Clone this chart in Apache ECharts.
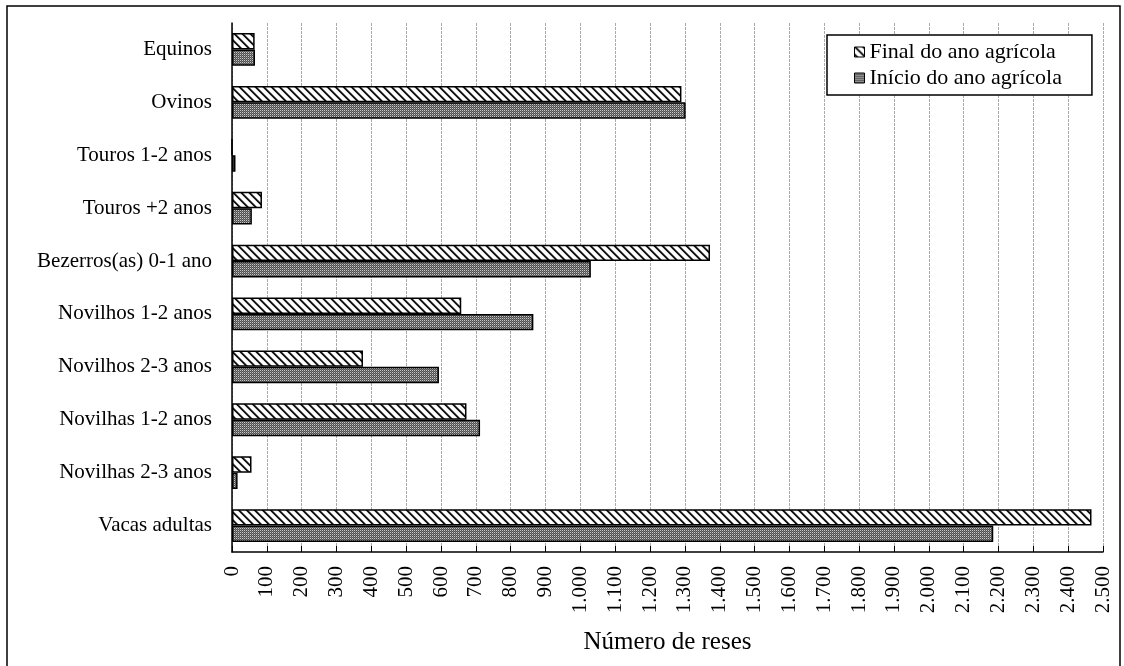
<!DOCTYPE html>
<html>
<head>
<meta charset="utf-8">
<script src="https://cdn.jsdelivr.net/npm/echarts@6/dist/echarts.min.js"></script>
<style>html,body{margin:0;padding:0;background:#fff}#c{width:1124px;height:666px}</style>
</head>
<body>
<div id="c"></div>
<script>
const categories = ["Equinos","Ovinos","Touros 1-2 anos","Touros +2 anos","Bezerros(as) 0-1 ano","Novilhos 1-2 anos","Novilhos 2-3 anos","Novilhas 1-2 anos","Novilhas 2-3 anos","Vacas adultas"];
const finalAno = [65, 1290, 0, 86, 1372, 658, 376, 673, 56, 2467];
const inicioAno = [66, 1302, 10, 57, 1030, 865, 594, 712, 16, 2185];
const seriesNames = ["Final do ano agrícola", "Início do ano agrícola"];
const xAxisName = "Número de reses";

function makeHatch() {
  const c = document.createElement('canvas'); c.width = 8; c.height = 8;
  const g = c.getContext('2d'); const im = g.createImageData(8, 8);
  for (let y = 0; y < 8; y++) for (let x = 0; x < 8; x++) {
    const d = ((x - y) % 8 + 8) % 8;
    const v = d < 2 ? 20 : (d === 2 ? 140 : (d === 7 ? 200 : 255));
    const i = (y * 8 + x) * 4; im.data[i] = im.data[i+1] = im.data[i+2] = v; im.data[i+3] = 255;
  }
  g.putImageData(im, 0, 0); return c;
}
function makeDots() {
  const c = document.createElement('canvas'); c.width = 4; c.height = 4;
  const g = c.getContext('2d'); const im = g.createImageData(4, 4);
  for (let y = 0; y < 4; y++) for (let x = 0; x < 4; x++) {
    let v;
    if (x % 2 === 0 && y % 2 === 0) v = 200;
    else if ((x + y) % 2 === 1) v = 80;
    else v = 120;
    const i = (y * 4 + x) * 4; im.data[i] = im.data[i+1] = im.data[i+2] = v; im.data[i+3] = 255;
  }
  g.putImageData(im, 0, 0); return c;
}
const hatch = { image: makeHatch(), repeat: 'repeat' };
const dots = { image: makeDots(), repeat: 'repeat' };
const font = 'Liberation Serif';

const chart = echarts.init(document.getElementById('c'), null, { renderer: 'canvas' });
chart.setOption({
  animation: false,
  backgroundColor: '#fff',
  textStyle: { fontFamily: font, color: '#000' },
  graphic: [{
    type: 'rect', z: 100, silent: true,
    shape: { x: 7, y: 6, width: 1113, height: 680 },
    style: { fill: null, stroke: '#000', lineWidth: 1.5 }
  }],
  grid: { left: 232, right: 21, top: 23, bottom: 114, containLabel: false },
  legend: {
    orient: 'vertical', left: 827, top: 35,
    padding: [6, 30, 6, 27], itemGap: 4,
    itemWidth: 10, itemHeight: 10, icon: 'rect',
    backgroundColor: '#fff', borderColor: '#000', borderWidth: 1.5,
    textStyle: { fontFamily: font, fontSize: 22, color: '#000', lineHeight: 22 },
    itemStyle: { borderColor: '#000', borderWidth: 1 },
    data: seriesNames
  },
  xAxis: {
    type: 'value', min: 0, max: 2500, interval: 100,
    name: xAxisName, nameLocation: 'middle', nameGap: 78,
    nameTextStyle: { fontFamily: font, fontSize: 25, color: '#000' },
    axisLine: { show: true, lineStyle: { color: '#000', width: 1.5 } },
    axisTick: { show: true, inside: true, length: 6, lineStyle: { color: '#000', width: 1 } },
    axisLabel: {
      rotate: 90, margin: 14, fontFamily: font, fontSize: 21, color: '#000',
      formatter: v => String(v).replace(/\B(?=(\d{3})+(?!\d))/g, '.')
    },
    splitLine: { show: true, lineStyle: { color: '#aaa', width: 1, type: [3, 1] } }
  },
  yAxis: {
    type: 'category', inverse: true, data: categories,
    axisLine: { show: true, lineStyle: { color: '#000', width: 1.5 } },
    axisTick: { show: false },
    axisLabel: { margin: 20, fontFamily: font, fontSize: 21, color: '#000' },
    splitLine: { show: false }
  },
  series: [
    { name: seriesNames[0], type: 'bar', data: finalAno, barGap: '0%', barCategoryGap: '38%',
      itemStyle: { color: hatch, borderColor: '#000', borderWidth: 1.5 } },
    { name: seriesNames[1], type: 'bar', data: inicioAno, barGap: '0%', barCategoryGap: '38%',
      itemStyle: { color: dots, borderColor: '#000', borderWidth: 1.5 } }
  ]
});
</script>
</body>
</html>
